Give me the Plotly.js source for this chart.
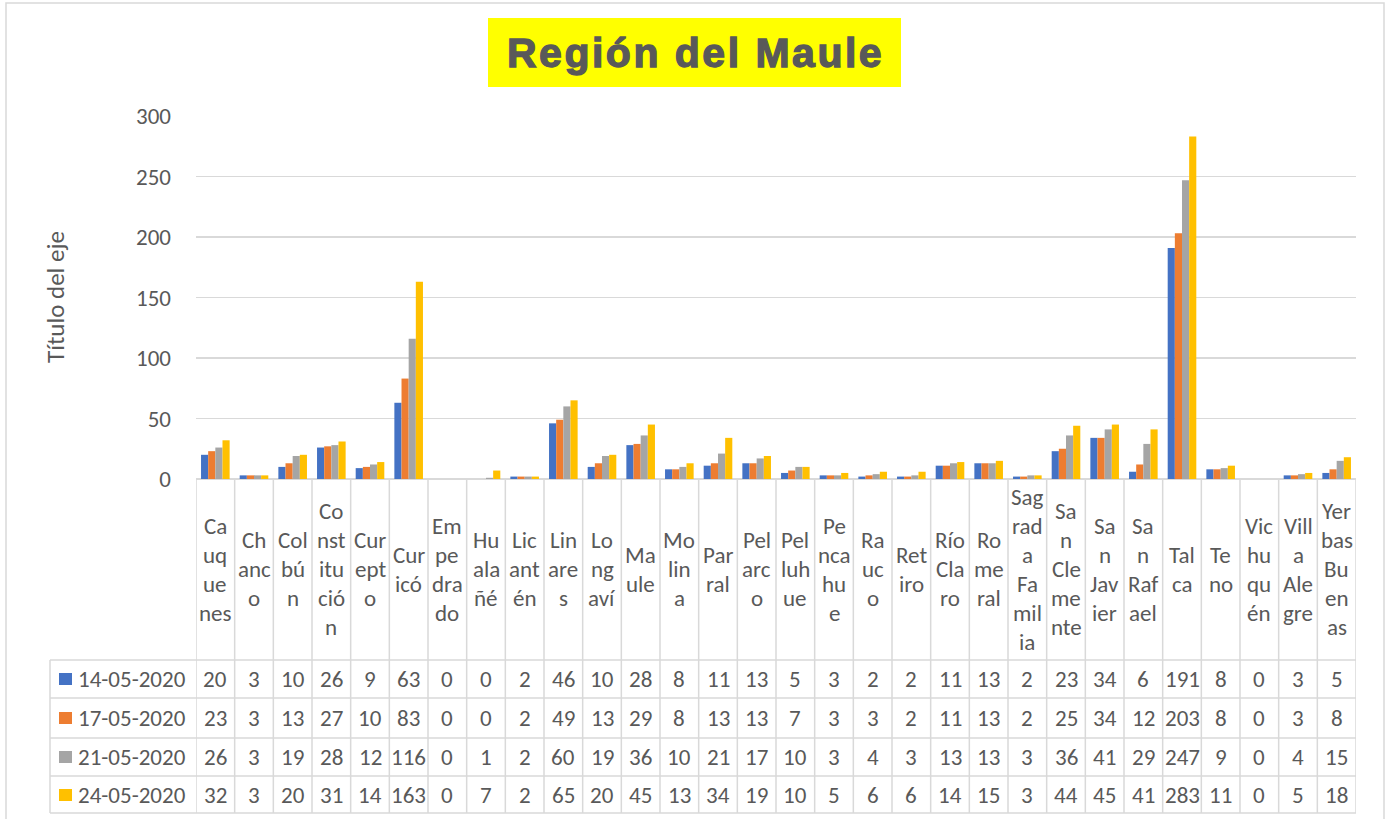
<!DOCTYPE html>
<html><head><meta charset="utf-8">
<script src="https://cdn.plot.ly/plotly-3.0.1.min.js"></script>
<style>html,body{margin:0;padding:0;background:#fff}#chart{width:1389px;height:819px}
g.annotation[data-index="1"] text{letter-spacing:2.5px;stroke:#595959;stroke-width:1.3px}</style>
</head><body><div id="chart"></div>
<script>
const categories = ["Cauquenes","Chanco","Colbún","Constitución","Curepto","Curicó","Empedrado","Hualañé","Licantén","Linares","Longaví","Maule","Molina","Parral","Pelarco","Pelluhue","Pencahue","Rauco","Retiro","Río Claro","Romeral","Sagrada Familia","San Clemente","San Javier","San Rafael","Talca","Teno","Vichuquén","Villa Alegre","Yerbas Buenas"];
const wrappedLabels = ["Ca|uq|ue|nes","Ch|anc|o","Col|bú|n","Co|nst|itu|ció|n","Cur|ept|o","Cur|icó","Em|pe|dra|do","Hu|ala|ñé","Lic|ant|én","Lin|are|s","Lo|ng|aví","Ma|ule","Mo|lin|a","Par|ral","Pel|arc|o","Pel|luh|ue","Pe|nca|hu|e","Ra|uc|o","Ret|iro","Río|Cla|ro","Ro|me|ral","Sag|rad|a|Fa|mil|ia","Sa|n|Cle|me|nte","Sa|n|Jav|ier","Sa|n|Raf|ael","Tal|ca","Te|no","Vic|hu|qu|én","Vill|a|Ale|gre","Yer|bas|Bu|en|as"];
const seriesNames = ["14-05-2020","17-05-2020","21-05-2020","24-05-2020"];
const s14 = [20,3,10,26,9,63,0,0,2,46,10,28,8,11,13,5,3,2,2,11,13,2,23,34,6,191,8,0,3,5];
const s17 = [23,3,13,27,10,83,0,0,2,49,13,29,8,13,13,7,3,3,2,11,13,2,25,34,12,203,8,0,3,8];
const s21 = [26,3,19,28,12,116,0,1,2,60,19,36,10,21,17,10,3,4,3,13,13,3,36,41,29,247,9,0,4,15];
const s24 = [32,3,20,31,14,163,0,7,2,65,20,45,13,34,19,10,5,6,6,14,15,3,44,45,41,283,11,0,5,18];
const yTicks = [0,50,100,150,200,250,300];
const colors = ["#4472C4","#ED7D31","#A5A5A5","#FFC000"];
const seriesValues = [s14,s17,s21,s24];

const PL=196, PR=1356, PT=116, PB=479;
const X = px => (px-PL)/(PR-PL);
const Y = py => (PB-py)/(PB-PT);
const grid = "#D9D9D9", txt = "#595959";
const FONT = "Calibri, Carlito, Roboto, sans-serif";
const FS = 23;

const traces = seriesValues.map((v,k)=>({
  type:"bar", x:categories, y:v, name:seriesNames[k],
  marker:{color:colors[k], line:{width:0}}, hoverinfo:"x+y+name"
}));

const shapes = [], annotations = [];
shapes.push({type:"rect",xref:"paper",yref:"paper",x0:X(6),x1:X(1384),y0:Y(830),y1:Y(3),line:{color:grid,width:1.5},fillcolor:"rgba(0,0,0,0)",layer:"below"});
shapes.push({type:"rect",xref:"paper",yref:"paper",x0:X(488),x1:X(901),y0:Y(87),y1:Y(18),line:{width:0},fillcolor:"#FFFF00"});
annotations.push({xref:"paper",yref:"paper",x:X(55),y:Y(297),text:"Título del eje",textangle:-90,showarrow:false,xanchor:"center",yanchor:"middle",font:{family:FONT,size:25,color:txt}});
annotations.push({xref:"paper",yref:"paper",x:X(695),y:Y(53),text:"<b>Región del Maule</b>",showarrow:false,xanchor:"center",yanchor:"middle",font:{family:"Liberation Sans, Arial, sans-serif",size:41,color:txt}});

const rowLines = [660,698,738,776,813];
rowLines.forEach(py=>shapes.push({type:"line",xref:"paper",yref:"paper",x0:X(50),x1:X(PR),y0:Y(py),y1:Y(py),line:{color:grid,width:1.5}}));
shapes.push({type:"line",xref:"paper",yref:"paper",x0:X(50),x1:X(50),y0:Y(660),y1:Y(813),line:{color:grid,width:1.5}});
for(let i=0;i<=categories.length;i++){
  shapes.push({type:"line",xref:"x",yref:"paper",x0:i-0.5,x1:i-0.5,y0:Y(PB),y1:Y(813),line:{color:grid,width:1.5}});
}
wrappedLabels.forEach((lab,i)=>{
  const parts = lab.split("|");
  const n = parts.length;
  parts.forEach((p,k)=>{
    const py = 569 + (k-(n-1)/2)*29;
    annotations.push({xref:"x",yref:"paper",x:i,y:Y(py),text:p,showarrow:false,xanchor:"center",yanchor:"middle",font:{family:FONT,size:FS,color:txt}});
  });
});
const rowCenters = [679,718,757,795];
seriesValues.forEach((v,k)=>{
  const py = rowCenters[k];
  shapes.push({type:"rect",xref:"paper",yref:"paper",x0:X(59),x1:X(72),y0:Y(py+6),y1:Y(py-6),line:{width:0},fillcolor:colors[k]});
  annotations.push({xref:"paper",yref:"paper",x:X(76),y:Y(py),text:seriesNames[k],showarrow:false,xanchor:"left",yanchor:"middle",font:{family:FONT,size:FS,color:txt}});
  v.forEach((val,i)=>{
    annotations.push({xref:"x",yref:"paper",x:i,y:Y(py),text:String(val),showarrow:false,xanchor:"center",yanchor:"middle",font:{family:FONT,size:FS,color:txt}});
  });
});

const layout = {
  width:1389, height:819,
  margin:{l:PL,r:1389-PR,t:PT,b:819-PB,pad:0},
  paper_bgcolor:"#fff", plot_bgcolor:"#fff",
  barmode:"group", bargap:0.26, bargroupgap:0,
  showlegend:false,
  xaxis:{type:"category",range:[-0.5,categories.length-0.5],showticklabels:false,showgrid:false,zeroline:false,showline:false,ticks:"",fixedrange:true},
  yaxis:{range:[0,300],tickvals:yTicks,ticktext:yTicks.map(String),showgrid:true,gridcolor:grid,gridwidth:1.5,zeroline:true,zerolinecolor:grid,zerolinewidth:1.5,showline:false,ticks:"",ticklabelstandoff:24,tickfont:{family:FONT,size:FS,color:txt},fixedrange:true},
  shapes, annotations
};
Plotly.newPlot("chart",traces,layout,{displayModeBar:false,staticPlot:true});
</script></body></html>
